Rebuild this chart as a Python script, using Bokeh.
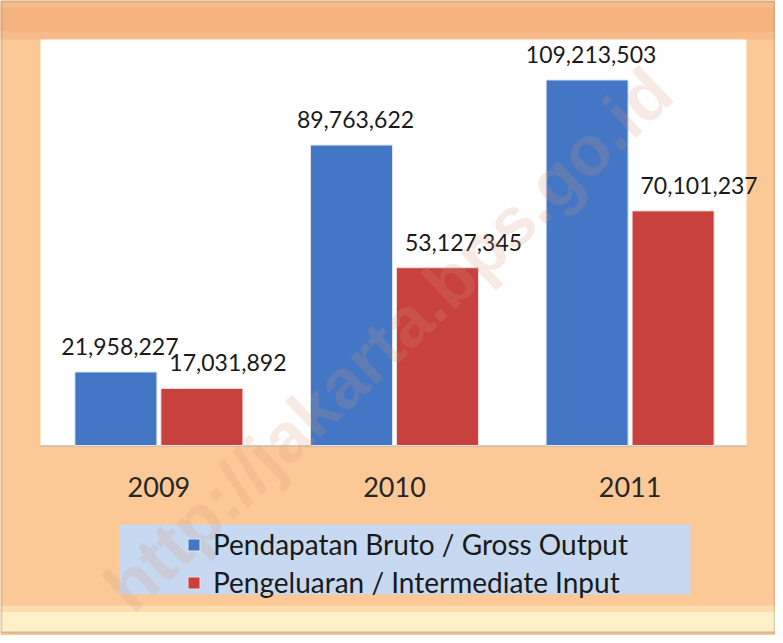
from bokeh.plotting import figure
from bokeh.models import ColumnDataSource, FactorRange, Legend, LegendItem, BoxAnnotation, Label
from bokeh.transform import dodge
from bokeh.core.properties import value
from bokeh.embed import file_html
from bokeh.resources import INLINE

years = ["2009", "2010", "2011"]
gross_output = [21958227, 89763622, 109213503]
intermediate_input = [17031892, 53127345, 70101237]
series_names = ["Pendapatan Bruto / Gross Output", "Pengeluaran / Intermediate Input"]
watermark = "http://jakarta.bps.go.id"

BLUE = "#4376c4"
RED = "#c8413f"
FONT = "Lato"
SHIFT = 0.0276     # horizontal shift of the category centres
OFF = 0.1825       # half distance between the two bars of a year
BW = 0.348         # bar width

src = ColumnDataSource(dict(
    year=years,
    zero=[0] * len(years),
    gross=gross_output,
    inter=intermediate_input,
    gross_lbl=[f"{v:,}" for v in gross_output],
    inter_lbl=[f"{v:,}" for v in intermediate_input],
))

p = figure(x_range=FactorRange(*years, range_padding=0.0965),
           y_range=(-56.77e6, 132.96e6),
           width=775, height=635, output_backend="svg", toolbar_location=None,
           x_axis_location=None, y_axis_location=None,
           min_border=0, border_fill_color="#fcc896", background_fill_color="#fcc896",
           outline_line_color=None)
p.xgrid.visible = False
p.ygrid.visible = False


def sbox(left, right, bottom, top, **kw):
    b = BoxAnnotation(left=left, right=right, bottom=bottom, top=top,
                      left_units="screen", right_units="screen",
                      bottom_units="screen", top_units="screen", level="underlay", **kw)
    p.add_layout(b)
    return b


# frame decoration
sbox(0, 775, 596, 635, fill_color="#f7bc89", fill_alpha=1, line_color=None)
sbox(0, 775, 604, 628, fill_color="#f4b27e", fill_alpha=1, line_color=None)
sbox(0, 775, 4, 24, fill_color="#fff0c8", fill_alpha=1, line_color=None)
sbox(0, 775, 24, 30, fill_color="#fedcae", fill_alpha=1, line_color=None)
sbox(1, 774, 3, 634, fill_alpha=0, line_color="#8c8c8c", line_width=2)
# white plot area
sbox(40, 746, 190, 596, fill_color="white", fill_alpha=1, line_color=None)
sbox(40, 746, 189, 190, fill_color="#b3b3b3", fill_alpha=1, line_color=None)
# legend background
sbox(119, 690, 41, 111, fill_color="#c6d9f0", fill_alpha=1, line_color=None)

vb1 = p.vbar(x=dodge("year", SHIFT - OFF, range=p.x_range), top="gross", width=BW, source=src,
             fill_color=BLUE, line_color="#dce6f2", line_width=1)
vb2 = p.vbar(x=dodge("year", SHIFT + OFF, range=p.x_range), top="inter", width=BW, source=src,
             fill_color=RED, line_color="#f2dcdb", line_width=1)

p.text(x=dodge("year", SHIFT - OFF, range=p.x_range), y="gross", text="gross_lbl", source=src,
       text_align="center", text_baseline="bottom", x_offset=4, y_offset=-17,
       text_font=value(FONT), text_font_size="23px", text_color="#1a1a1a")
p.text(x=dodge("year", SHIFT + OFF, range=p.x_range), y="inter", text="inter_lbl", source=src,
       text_align="center", text_baseline="bottom", x_offset=26, y_offset=-17,
       text_font=value(FONT), text_font_size="23px", text_color="#1a1a1a")

# category labels under the baseline
p.text(x=dodge("year", SHIFT, range=p.x_range), y="zero", text="year", source=src,
       text_align="center", text_baseline="middle", y_offset=42,
       text_font=value(FONT), text_font_size="27px", text_color="#262626")

legend = Legend(items=[LegendItem(label=series_names[0], renderers=[vb1]),
                       LegendItem(label=series_names[1], renderers=[vb2])],
                location=(186, 36), background_fill_alpha=0, border_line_color=None,
                padding=0, margin=0, spacing=4, glyph_width=15, glyph_height=15,
                label_height=30, label_standoff=12,
                label_text_font=FONT, label_text_font_size="28px", label_text_color="#1a1a1a")
p.add_layout(legend)

p.add_layout(Label(x=388, y=296, x_units="screen", y_units="screen", text=watermark,
                   angle=0.76, text_align="center", text_baseline="middle",
                   text_font="Liberation Sans", text_font_style="bold", text_font_size="70px",
                   text_color="#d89878", text_alpha=0.2))

open("out.html", "w").write(file_html(p, INLINE))
